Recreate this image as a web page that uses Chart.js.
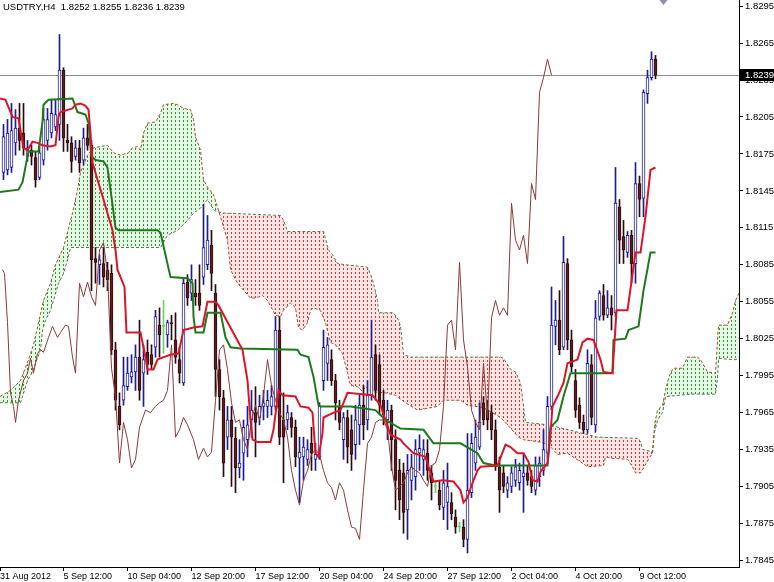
<!DOCTYPE html>
<html>
<head>
<meta charset="utf-8">
<script src="https://cdn.jsdelivr.net/npm/chart.js@4.4.0/dist/chart.umd.min.js"></script>
<style>
  html, body { margin: 0; padding: 0; background: #fff; }
  canvas { display: block; }
</style>
</head>
<body>
<canvas id="chart" width="774" height="582" style="width:774px;height:582px"></canvas>
<script>
// USDTRY H4 with Ichimoku, 31 Aug - 10 Oct 2012
const symbolTitle = "USDTRY,H4  1.8252 1.8255 1.8236 1.8239";

// bar index positions of the date labels (first one is the left edge)
const xTickPos = [-0.875, 15, 31, 47, 63, 79, 95, 111, 127, 143, 159];
const xTickLabels = ["31 Aug 2012", "5 Sep 12:00", "10 Sep 04:00", "12 Sep 20:00", "17 Sep 12:00",
  "20 Sep 04:00", "24 Sep 20:00", "27 Sep 12:00", "2 Oct 04:00", "4 Oct 20:00", "9 Oct 12:00"];
const yTicks = [1.7845, 1.7875, 1.7905, 1.7935, 1.7965, 1.7995, 1.8025, 1.8055, 1.8085,
  1.8115, 1.8145, 1.8175, 1.8205, 1.8235, 1.8265, 1.8295];

// candles, one per H4 bar
const opens = [
  1.8160,1.8162,1.8164,1.8184,1.8196,1.8192,1.8173,1.8178,1.8172,1.8156,
  1.8170,1.8186,1.8192,1.8197,1.8199,1.8243,1.8186,1.8184,1.8173,1.8180,
  1.8170,1.8188,1.8182,1.8090,1.8085,1.8086,1.8081,1.8078,1.8016,1.7970,
  1.7975,1.7986,1.7994,1.7998,1.8010,1.7997,1.8014,1.8012,1.8018,1.8036,
  1.8035,1.8028,1.8038,1.8024,1.8008,1.7989,1.8071,1.8062,1.8062,1.8062,
  1.8075,1.8085,1.8101,1.8062,1.8000,1.7977,1.7945,1.7959,1.7944,1.7920,
  1.7932,1.7943,1.7959,1.7965,1.7961,1.7970,1.7970,1.7970,1.7970,1.8032,
  1.7959,1.7959,1.7961,1.7953,1.7928,1.7929,1.7927,1.7940,1.7927,1.7929,
  1.7991,1.8005,1.8008,1.7991,1.7970,1.7943,1.7961,1.7951,1.7939,1.7955,
  1.7971,1.7959,1.7979,1.8012,1.8004,1.7975,1.7959,1.7967,1.7943,1.7918,
  1.7916,1.7886,1.7910,1.7913,1.7932,1.7927,1.7932,1.7916,1.7905,1.7902,
  1.7888,1.7892,1.7892,1.7880,1.7872,1.7872,1.7862,1.7900,1.7924,1.7937,
  1.7973,1.7967,1.7965,1.7951,1.7921,1.7916,1.7902,1.7905,1.7910,1.7908,
  1.7913,1.7916,1.7913,1.7902,1.7913,1.7918,1.7932,1.7970,1.8035,1.8040,
  1.8018,1.8086,1.8024,1.7991,1.7971,1.7957,1.7951,1.8004,1.7955,1.8043,
  1.8060,1.8044,1.8050,1.8046,1.8132,1.8108,1.8095,1.8109,1.8086,1.8151,
  1.8139,1.8224,1.8237,1.8252
];
const highs = [
  1.8199,1.8203,1.8216,1.8211,1.8216,1.8216,1.8186,1.8182,1.8177,1.8182,
  1.8212,1.8212,1.8219,1.8219,1.8272,1.8245,1.8199,1.8189,1.8186,1.8186,
  1.8196,1.8199,1.8186,1.8099,1.8093,1.8099,1.8087,1.8085,1.8022,1.7981,
  1.8010,1.8010,1.8012,1.8020,1.8040,1.8020,1.8024,1.8020,1.8048,1.8050,
  1.8056,1.8040,1.8044,1.8046,1.8018,1.8074,1.8077,1.8085,1.8073,1.8085,
  1.8134,1.8125,1.8113,1.8069,1.8008,1.7983,1.7970,1.7970,1.7953,1.7943,
  1.7959,1.7970,1.7983,1.7986,1.7979,1.7983,1.7983,1.7987,1.8043,1.8043,
  1.7981,1.7971,1.7965,1.7959,1.7945,1.7945,1.7943,1.7953,1.7940,1.7973,
  1.8032,1.8026,1.8016,1.7996,1.7975,1.7965,1.7967,1.7963,1.7971,1.7979,
  1.7987,1.7991,1.8040,1.8020,1.8012,1.7983,1.7975,1.7971,1.7951,1.7927,
  1.7924,1.7931,1.7931,1.7943,1.7947,1.7943,1.7943,1.7922,1.7910,1.7910,
  1.7918,1.7924,1.7900,1.7886,1.7876,1.7878,1.7948,1.7948,1.7959,1.7973,
  1.7978,1.7975,1.7971,1.7959,1.7929,1.7922,1.7913,1.7921,1.7927,1.7924,
  1.7932,1.7922,1.7918,1.7929,1.7929,1.7951,1.7978,1.8067,1.8056,1.8064,
  1.8108,1.8090,1.8032,1.8000,1.7977,1.7963,1.8016,1.8012,1.8056,1.8064,
  1.8069,1.8064,1.8060,1.8164,1.8138,1.8121,1.8112,1.8113,1.8168,1.8157,
  1.8227,1.8243,1.8258,1.8255
];
const lows = [
  1.8154,1.8158,1.8160,1.8174,1.8178,1.8174,1.8169,1.8166,1.8148,1.8154,
  1.8166,1.8178,1.8188,1.8194,1.8186,1.8177,1.8177,1.8160,1.8170,1.8160,
  1.8166,1.8178,1.8064,1.8070,1.8069,1.8067,1.8064,1.8012,1.7967,1.7951,
  1.7971,1.7983,1.7989,1.7983,1.7975,1.7970,1.7996,1.8000,1.8010,1.8010,
  1.8013,1.8018,1.8024,1.8005,1.7989,1.7987,1.8052,1.8056,1.8052,1.8048,
  1.8069,1.8081,1.8064,1.7978,1.7967,1.7913,1.7935,1.7905,1.7900,1.7912,
  1.7910,1.7929,1.7945,1.7929,1.7955,1.7959,1.7961,1.7963,1.7967,1.7939,
  1.7908,1.7951,1.7945,1.7921,1.7892,1.7910,1.7922,1.7918,1.7918,1.7927,
  1.7983,1.7991,1.7987,1.7959,1.7951,1.7927,1.7924,1.7918,1.7927,1.7939,
  1.7943,1.7951,1.7975,1.7975,1.7963,1.7955,1.7943,1.7918,1.7886,1.7878,
  1.7867,1.7862,1.7894,1.7902,1.7918,1.7914,1.7910,1.7894,1.7900,1.7886,
  1.7878,1.7870,1.7878,1.7867,1.7868,1.7856,1.7851,1.7896,1.7918,1.7935,
  1.7955,1.7951,1.7943,1.7918,1.7884,1.7900,1.7896,1.7900,1.7905,1.7902,
  1.7884,1.7906,1.7900,1.7898,1.7905,1.7914,1.7927,1.7967,1.8020,1.8012,
  1.8016,1.8016,1.7998,1.7961,1.7952,1.7948,1.7948,1.7955,1.7949,1.8040,
  1.8040,1.8042,1.8032,1.8043,1.8086,1.8086,1.8091,1.8070,1.8070,1.8124,
  1.8124,1.8216,1.8235,1.8236
];
const closes = [
  1.8189,1.8192,1.8194,1.8196,1.8186,1.8180,1.8180,1.8173,1.8154,1.8176,
  1.8203,1.8203,1.8208,1.8207,1.8243,1.8188,1.8184,1.8169,1.8180,1.8168,
  1.8188,1.8182,1.8089,1.8087,1.8089,1.8075,1.8073,1.8016,1.7975,1.7955,
  1.7987,1.7997,1.7998,1.8010,1.7983,1.8008,1.8004,1.8004,1.8043,1.8028,
  1.8035,1.8038,1.8037,1.8010,1.7997,1.8070,1.8058,1.8073,1.8059,1.8052,
  1.8099,1.8105,1.8078,1.8000,1.7978,1.7924,1.7959,1.7945,1.7920,1.7924,
  1.7953,1.7955,1.7967,1.7957,1.7970,1.7973,1.7975,1.7978,1.8032,1.7945,
  1.7945,1.7965,1.7953,1.7929,1.7933,1.7937,1.7935,1.7932,1.7931,1.7970,
  1.8018,1.8020,1.7991,1.7973,1.7957,1.7961,1.7937,1.7931,1.7959,1.7971,
  1.7955,1.7979,1.8010,1.7983,1.7971,1.7963,1.7967,1.7943,1.7910,1.7894,
  1.7884,1.7918,1.7921,1.7935,1.7936,1.7935,1.7918,1.7908,1.7905,1.7890,
  1.7908,1.7905,1.7883,1.7872,1.7872,1.7862,1.7902,1.7940,1.7945,1.7957,
  1.7959,1.7959,1.7951,1.7921,1.7902,1.7905,1.7908,1.7916,1.7921,1.7918,
  1.7916,1.7910,1.7905,1.7922,1.7924,1.7935,1.7970,1.8036,1.8040,1.8016,
  1.8087,1.8024,1.8002,1.7967,1.7957,1.7951,1.8005,1.7961,1.8042,1.8062,
  1.8044,1.8050,1.8044,1.8135,1.8105,1.8097,1.8109,1.8086,1.8151,1.8138,
  1.8225,1.8237,1.8252,1.8239
];

// Tenkan-sen (red), vertices
const tenkanAt = [-0.875,0.5,2.25,3.75,4.25,5,6,7.25,8.5,9.75,11.75,13,13.75,14.25,16.25,17.25,18,19.25,20.5,21.25,
  21.75,22.25,23.5,25,26.25,27.25,28,28.5,29.25,30.25,30.75,34.25,35.5,36,37.5,38.5,40,41.75,43.75,45,
  47.5,49.75,51,53,53.75,59.75,61,61.75,62.25,63.5,66.75,67.5,68.75,69.75,73,74.25,76.25,77.25,78,78.75,
  79.75,80,82.5,84.25,86,92.25,94.25,96.75,99.25,100,102.5,105.5,106.75,107.5,109.75,112.5,114.25,115,116,117.25,
  118.5,119.25,123.5,125.5,126.75,128.5,130,131.25,132.25,133.5,134.25,136,136.75,137.25,138.5,140,141,143.5,144.75,146,
  147.5,149.25,150,152.25,152.75,153.25,156,157.5,158,159.25,160.5,161.75,163];
const tenkanVal = [1.8220,1.8219,1.8205,1.8204,1.8194,1.8180,1.8178,1.8185,1.8184,1.8182,1.8181,1.8182,1.8205,1.8209,1.8211,1.8212,1.8215,1.8216,1.8214,1.8211,
  1.8192,1.8168,1.8154,1.8138,1.8124,1.8113,1.8097,1.8081,1.8075,1.8067,1.8030,1.8030,1.8010,1.8000,1.8000,1.8008,1.8010,1.8012,1.8013,1.8032,
  1.8034,1.8035,1.8055,1.8055,1.8052,1.8016,1.7991,1.7959,1.7943,1.7941,1.7941,1.7951,1.7983,1.7979,1.7978,1.7970,1.7969,1.7965,1.7932,1.7929,
  1.7948,1.7961,1.7965,1.7967,1.7981,1.7979,1.7971,1.7947,1.7943,1.7940,1.7932,1.7929,1.7916,1.7909,1.7910,1.7909,1.7902,1.7892,1.7896,1.7908,
  1.7918,1.7921,1.7922,1.7939,1.7937,1.7932,1.7932,1.7925,1.7910,1.7909,1.7917,1.7924,1.7948,1.7970,1.7978,1.7989,1.8005,1.8008,1.8022,1.8025,
  1.8024,1.8008,1.7998,1.7997,1.8022,1.8048,1.8048,1.8083,1.8095,1.8095,1.8124,1.8162,1.8164];

// Kijun-sen (green)
const kijunAt = [-0.875,3.75,4.75,6,6.25,8.75,9.75,10,11.25,17.25,18.5,20.5,21.25,22,23,25,26,26.75,28,28.75,
  38.5,39.25,41.75,46,47.25,47.5,48,50,51,54.25,55.5,56.75,59.25,73.5,74.25,76.25,77.5,78.75,79.25,86.75,
  93,95.5,99.25,105,107.5,114.25,118.5,120,123,136,136.75,138.5,140,141.75,152.25,152.5,155.5,156.25,158.75,160,
  161.75,163];
const kijunVal = [1.8144,1.8146,1.8152,1.8173,1.8177,1.8177,1.8201,1.8215,1.8219,1.8220,1.8209,1.8207,1.8200,1.8173,1.8170,1.8169,1.8164,1.8146,1.8115,1.8113,
  1.8113,1.8111,1.8075,1.8074,1.8070,1.8043,1.8030,1.8030,1.8046,1.8046,1.8026,1.8018,1.8017,1.8016,1.8012,1.8010,1.7994,1.7971,1.7970,1.7970,
  1.7967,1.7959,1.7952,1.7951,1.7940,1.7940,1.7932,1.7924,1.7922,1.7922,1.7953,1.7959,1.7978,1.7997,1.7997,1.8024,1.8025,1.8032,1.8035,1.8064,
  1.8095,1.8095];

// Chikou span (thin brown)
const chikouAt = [-0.25,0.25,1,1.75,2.5,3,3.75,5,6,6.75,7.5,8.5,9.25,10,11.25,12.25,13.5,14.25,15.5,16.25,17.25,18,
  19,20,21,22,23,24,25,26,27,28,29,30,31,32,33,34,
  35.5,36.75,38,39,40,41,42,43,44,45,46,47.5,48.75,50,51,52,
  53,54,55,56,57,58,59,60,61,62,63,64,65,66,67,68,69,70,71,72,73,74,75,76,77,78,79,80,81,82,83,84,85,86,
  87,88,89,90,91,92,93,94,95,96,97,98,99,100,101,102,103,104,105,106,107,108,109,110,111,112,
  113,114,115,116,117,118,119,120,121,122,123,124,125,126,127,128,129,130,131,132,133,134,135,136,137];
const chikouVal = [1.8081,1.8078,1.8038,1.7981,1.7970,1.7957,1.7975,1.7991,1.7997,1.8009,1.7997,1.8013,1.8016,1.8014,1.8026,1.8035,1.8026,1.8030,1.8036,1.8035,1.8010,1.7997,
  1.8070,1.8059,1.8071,1.8059,1.8052,1.8097,1.8103,1.8078,1.8001,1.7978,1.7924,1.7957,1.7943,1.7920,1.7927,1.7953,
  1.7967,1.7965,1.7970,1.7973,1.7975,1.7983,1.8020,1.7945,1.7951,1.7961,1.7955,1.7943,1.7927,1.7936,1.7929,1.7933,
  1.7975,1.8016,1.8020,1.8000,1.7973,1.7957,1.7959,1.7943,1.7935,1.7959,1.7971,1.7959,1.7979,1.8008,1.7987,1.7975,1.7965,1.7959,1.7945,1.7918,1.7902,1.7890,1.7910,1.7918,1.7931,1.7935,1.7931,1.7918,1.7908,1.7904,1.7894,1.7908,1.7902,1.7886,
  1.7872,1.7871,1.7862,1.7902,1.7940,1.7945,1.7957,1.7959,1.7959,1.7951,1.7921,1.7902,1.7905,1.7908,1.7916,1.7921,1.7918,1.7916,1.7910,1.7905,1.7922,1.7924,1.7935,1.7970,1.8036,1.8040,
  1.8016,1.8087,1.8024,1.8002,1.7967,1.7957,1.7951,1.8005,1.7961,1.8042,1.8056,1.8044,1.8050,1.8044,1.8135,1.8105,1.8097,1.8109,1.8086,1.8151,1.8138,1.8225,1.8237,1.8252,1.8239];

// Senkou span A (cloud edge, brown)
const spanAAt = [-0.875,1.75,4.25,6.25,7.5,10,11.75,13,15,17.25,18.5,19.25,21,22.5,24.25,26,27.5,29.25,31.25,32.25,
  33.5,34.25,35,36,38,39.25,40,42.5,43.5,45,46.75,47.5,48,49.25,50,51,52.5,53.5,56,56.75,
  58.5,61.75,63,64.75,66,68,69.25,70,71.75,73,73.75,74.75,76,76.75,77.5,79.25,80.5,81.75,83,84.75,
  86,86.75,88.5,89.75,90.5,91.75,95.5,98,100,103.5,108.5,110,114.25,116,120,124.25,126,128.75,130,134.25,
  136.25,138.5,141,144.25,146,150,150.5,151.75,156,157.25,158,159.25,160,161.25,162.25,162.75,163.5,164.75,165.5,166,
  166.75,167.5,169.75,171,173.5,174.25,176,178,178.75,181,182.25,183,183.875];
const spanAVal = [1.7978,1.7983,1.7991,1.8008,1.8020,1.8056,1.8070,1.8085,1.8099,1.8127,1.8146,1.8160,1.8174,1.8180,1.8181,1.8182,1.8176,1.8174,1.8176,1.8180,
  1.8181,1.8178,1.8192,1.8200,1.8201,1.8208,1.8215,1.8216,1.8215,1.8212,1.8211,1.8203,1.8189,1.8178,1.8154,1.8148,1.8142,1.8132,1.8105,1.8081,
  1.8070,1.8058,1.8058,1.8060,1.8056,1.8044,1.8043,1.8048,1.8054,1.8050,1.8034,1.8032,1.8038,1.8048,1.8050,1.8048,1.8038,1.8022,1.8020,1.8013,
  1.7997,1.7987,1.7986,1.7982,1.7986,1.7982,1.7981,1.7979,1.7974,1.7967,1.7970,1.7975,1.7975,1.7971,1.7969,1.7961,1.7955,1.7945,1.7943,1.7941,
  1.7939,1.7931,1.7932,1.7925,1.7921,1.7922,1.7929,1.7928,1.7927,1.7921,1.7916,1.7916,1.7920,1.7927,1.7932,1.7955,1.7967,1.7971,1.7983,1.7990,
  1.7997,1.8001,1.8001,1.8010,1.8010,1.8008,1.7998,1.7997,1.8036,1.8036,1.8046,1.8056,1.8062];

// Senkou span B (cloud edge, green)
const spanBAt = [-0.875,4.25,6,7.25,8,9.25,9.75,10.5,11.75,12.5,13.75,15,16,16.75,39.25,41,43.5,46,47.5,49.25,
  51,51.75,52.75,54.75,61.75,69.25,70,71,80,81.25,82.25,83.5,85.5,91,92.25,93.5,93.75,97.5,98.75,99.25,
  100,101.75,124.25,125,126.75,128,129.25,130.5,136.25,148.5,158.75,159.25,159.75,162.25,162.75,163.5,164.75,165.5,171.75,178,
  178.5,178.75,182.5,183.875];
const spanBVal = [1.7973,1.7973,1.7991,1.7998,1.8005,1.8016,1.8032,1.8040,1.8048,1.8056,1.8070,1.8078,1.8089,1.8099,1.8099,1.8109,1.8113,1.8121,1.8127,1.8131,
  1.8138,1.8134,1.8129,1.8127,1.8126,1.8125,1.8121,1.8112,1.8112,1.8097,1.8093,1.8086,1.8085,1.8083,1.8073,1.8056,1.8046,1.8046,1.8040,1.8035,
  1.8012,1.8010,1.8010,1.8009,1.8000,1.7998,1.7989,1.7957,1.7955,1.7945,1.7944,1.7941,1.7935,1.7933,1.7949,1.7959,1.7965,1.7978,1.7980,1.7980,
  1.7993,1.8009,1.8008,1.8008];

const canvas = document.getElementById("chart");
const ctx = canvas.getContext("2d");

// small dotted hatch like the MT4 cloud, with the faint tint the jpeg shows
function hatch(tint, color) {
  const tile = document.createElement("canvas");
  tile.width = 4;
  tile.height = 4;
  const t = tile.getContext("2d");
  t.fillStyle = tint;
  t.fillRect(0, 0, 4, 4);
  t.fillStyle = color;
  t.fillRect(3, 0, 1, 2);
  return ctx.createPattern(tile, "repeat");
}

const upColor = "#1d1d8f";
const downFill = "#5e1e1e";
const downEdge = "#2a0c10";
const dojiColor = "#6fcf6f";

const kind = closes.map((c, i) => (c > opens[i] ? 1 : c < opens[i] ? -1 : 0));
const wickColors = kind.map((k) => (k > 0 ? upColor : k < 0 ? downEdge : dojiColor));
const bodyFills = kind.map((k) => (k > 0 ? "#ffffff" : k < 0 ? downFill : dojiColor));
const bodyEdges = kind.map((k) => (k > 0 ? upColor : k < 0 ? downEdge : dojiColor));

const pts = (at, val) => at.map((b, k) => ({ x: b, y: val[k] }));
const lastClose = closes[closes.length - 1];

const mt4Overlay = {
  id: "mt4Overlay",
  beforeDatasetsDraw(chart) {
    const { ctx, chartArea, scales } = chart;
    const y = Math.round(scales.y.getPixelForValue(lastClose)) + 0.5;
    ctx.save();
    ctx.strokeStyle = "#8c8c8c";
    ctx.lineWidth = 1;
    ctx.beginPath();
    ctx.moveTo(chartArea.left, y);
    ctx.lineTo(chartArea.right, y);
    ctx.stroke();
    ctx.restore();
  },
  afterDraw(chart) {
    const { ctx, chartArea, scales } = chart;
    ctx.save();
    ctx.font = '9.5px "Liberation Sans", Arial, sans-serif';
    ctx.textBaseline = "middle";
    ctx.fillStyle = "#000";
    ctx.fillText(symbolTitle, 3, 7);

    // price box on the axis
    const y = Math.round(scales.y.getPixelForValue(lastClose));
    ctx.fillStyle = "#000";
    ctx.fillRect(chartArea.right + 1, y - 6, 34, 12);
    ctx.fillStyle = "#fff";
    ctx.fillText(lastClose.toFixed(4), chartArea.right + 6, y);

    // chart shift marker
    const sx = scales.x.getPixelForValue(165);
    ctx.fillStyle = "#8a94a4";
    ctx.beginPath();
    ctx.moveTo(sx - 4, 0);
    ctx.lineTo(sx + 4, 0);
    ctx.lineTo(sx, 5);
    ctx.closePath();
    ctx.fill();
    ctx.restore();
  },
};

Chart.defaults.font.family = '"Liberation Sans", Arial, sans-serif';
Chart.defaults.color = "#000";

new Chart(ctx, {
  type: "line",
  data: {
    datasets: [
      {
        label: "Tenkan-sen",
        data: pts(tenkanAt, tenkanVal),
        borderColor: "#dc1428",
        borderWidth: 2,
        pointRadius: 0,
        order: 0,
      },
      {
        label: "Kijun-sen",
        data: pts(kijunAt, kijunVal),
        borderColor: "#1c7a1c",
        borderWidth: 2,
        pointRadius: 0,
        order: 1,
      },
      {
        label: "Chikou Span",
        data: pts(chikouAt, chikouVal),
        borderColor: "#8b3a3a",
        borderWidth: 1,
        pointRadius: 0,
        order: 2,
      },
      {
        type: "bar",
        label: "Body",
        data: opens.map((o, i) => ({ x: i, y: [o, closes[i]] })),
        backgroundColor: bodyFills,
        borderColor: bodyEdges,
        borderWidth: 1,
        borderSkipped: false,
        barThickness: 3,
        minBarLength: 1,
        grouped: false,
        order: 3,
      },
      {
        type: "bar",
        label: "Wick",
        data: lows.map((l, i) => ({ x: i, y: [l, highs[i]] })),
        backgroundColor: wickColors,
        borderWidth: 0,
        barThickness: 1,
        grouped: false,
        order: 4,
      },
      {
        label: "Senkou Span A",
        data: pts(spanAAt, spanAVal),
        borderColor: "#a0522d",
        borderWidth: 1,
        borderDash: [3, 2],
        pointRadius: 0,
        fill: {
          target: "+1",
          above: hatch("rgba(190,235,190,0.35)", "#24a024"),
          below: hatch("rgba(250,200,200,0.45)", "#d83434"),
        },
        order: 5,
      },
      {
        label: "Senkou Span B",
        data: pts(spanBAt, spanBVal),
        borderColor: "#2f6a2f",
        borderWidth: 1,
        borderDash: [3, 2],
        pointRadius: 0,
        order: 6,
      },
    ],
  },
  options: {
    responsive: false,
    maintainAspectRatio: false,
    animation: false,
    devicePixelRatio: 1,
    events: [],
    layout: { padding: 0 },
    plugins: {
      legend: { display: false },
      tooltip: { enabled: false },
    },
    scales: {
      x: {
        type: "linear",
        min: -0.875,
        max: 183.875,
        offset: false,
        afterBuildTicks: (s) => {
          s.ticks = xTickPos.map((v) => ({ value: v }));
        },
        afterFit: (s) => {
          s.height = 15;
          s.paddingLeft = 0;
          s.paddingRight = 0;
        },
        grid: { drawOnChartArea: false, drawTicks: true, tickLength: 4, tickColor: "#000", offset: false },
        border: { display: true, color: "#000", width: 1 },
        ticks: {
          autoSkip: false,
          maxRotation: 0,
          align: "start",
          padding: 0,
          font: { size: 9 },
          callback: (v, idx) => xTickLabels[idx],
        },
      },
      y: {
        type: "linear",
        position: "right",
        min: 1.78396,
        max: 1.83,
        beginAtZero: false,
        afterBuildTicks: (s) => {
          s.ticks = yTicks.map((v) => ({ value: v }));
        },
        afterFit: (s) => {
          s.width = 35;
          s.paddingTop = 0;
          s.paddingBottom = 0;
        },
        grid: { drawOnChartArea: false, drawTicks: true, tickLength: 4, tickColor: "#000" },
        border: { display: true, color: "#000", width: 1 },
        ticks: {
          autoSkip: false,
          padding: 2,
          font: { size: 9.5 },
          callback: (v) => Number(v).toFixed(4),
        },
      },
    },
  },
  plugins: [mt4Overlay],
});
</script>
</body>
</html>
